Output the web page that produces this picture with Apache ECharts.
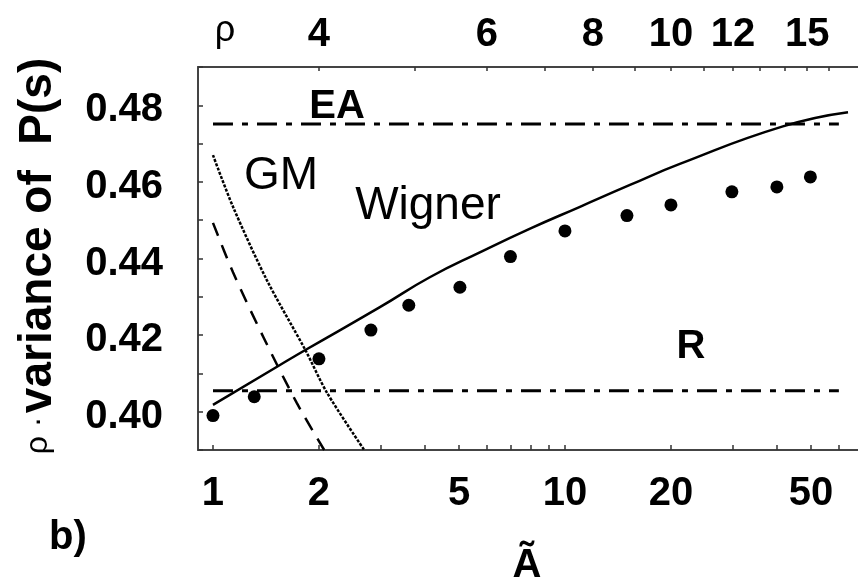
<!DOCTYPE html>
<html>
<head>
<meta charset="utf-8">
<script src="https://cdn.jsdelivr.net/npm/echarts@6/dist/echarts.min.js"></script>
<style>
  html, body { margin: 0; padding: 0; background: #fff; }
  #chart { width: 858px; height: 579px; }
</style>
</head>
<body>
<div id="chart"></div>
<script>
// Axis ranges and ticks
const xMin = 0.9067, xMax = 68;
const yMin = 0.39, yMax = 0.49;
const bottomLabels = [1, 2, 5, 10, 20, 50];
const bottomTicks = [1, 2, 3, 4, 5, 6, 7, 8, 9, 10, 20, 30, 40, 50, 60];
const rhoLabels = [4, 6, 8, 10, 12, 15];
const rhoTicks = [4, 5, 6, 7, 8, 9, 10, 11, 12, 13, 14, 15, 16];

// Measured points (dots)
const dotsX = [1, 1.31, 2, 2.81, 3.6, 5.03, 7.0, 10, 15, 20, 29.8, 40, 49.8];
const dotsY = [0.399, 0.4039, 0.4138, 0.4213, 0.4278, 0.4325, 0.4405, 0.4472, 0.4512, 0.454, 0.4574, 0.4587, 0.4613];

// Wigner curve
const wignerX = [1, 1.55, 1.83, 2.98, 4.13, 5.73, 7.96, 11.03, 15.3, 21.2, 41.6, 63.7];
const wignerY = [0.4018, 0.4122, 0.4161, 0.4273, 0.4351, 0.4416, 0.4478, 0.4535, 0.4592, 0.4647, 0.4745, 0.4782];

// GM curve
const gmX = [1, 1.14, 1.42, 1.83, 2.11, 2.69];
const gmY = [0.467, 0.4535, 0.4345, 0.4161, 0.4049, 0.39];

// Dashed curve
const dashX = [1, 1.14, 1.39, 1.73, 2.07];
const dashY = [0.4493, 0.4364, 0.4195, 0.4023, 0.39];

// Horizontal reference levels
const levelX = [1, 60];
const eaLevel = 0.4751;
const rLevel = 0.4055;

const rhoToA = r => (r / 2) * (r / 2 - 1);
const aToRho = a => Math.round(1 + Math.sqrt(1 + 4 * a));
const zip = (xs, ys) => xs.map((x, i) => [x, ys[i]]);

const boldFont = { fontFamily: 'Liberation Sans, Arial, sans-serif', fontWeight: 'bold', fontSize: 40, color: '#000' };
const axisLineStyle = { color: '#444', width: 2 };
const dashDot = [20, 9, 6, 9];

const chart = echarts.init(document.getElementById('chart'), null, { renderer: 'canvas' });

chart.setOption({
  animation: false,
  backgroundColor: '#fff',
  grid: { left: 198, right: 0, top: 67, bottom: 129, containLabel: false, outerBoundsMode: 'none' },
  xAxis: [
    {
      type: 'log', position: 'bottom', min: xMin, max: xMax,
      axisLine: { show: true, onZero: false, lineStyle: axisLineStyle },
      axisTick: { show: true, inside: true, length: 5, customValues: bottomTicks, lineStyle: { color: '#333', width: 1.5 } },
      axisLabel: Object.assign({ customValues: bottomLabels, margin: 24, formatter: v => String(Math.round(v)) }, boldFont),
      splitLine: { show: false }, minorTick: { show: false }
    },
    {
      type: 'log', position: 'top', min: xMin, max: xMax,
      axisLine: { show: true, onZero: false, lineStyle: axisLineStyle },
      axisTick: { show: true, inside: true, length: 4, customValues: rhoTicks.map(rhoToA), lineStyle: { color: '#333', width: 1.5 } },
      axisLabel: Object.assign({ customValues: rhoLabels.map(rhoToA), margin: 12, formatter: v => String(aToRho(v)) }, boldFont),
      splitLine: { show: false }
    }
  ],
  yAxis: {
    type: 'value', min: yMin, max: yMax, interval: 0.01,
    axisLine: { show: true, onZero: false, lineStyle: axisLineStyle },
    axisTick: { show: true, inside: true, length: 5, lineStyle: { color: '#333', width: 1.5 } },
    axisLabel: Object.assign({
      margin: 35,
      formatter: v => {
        const k = Math.round(v * 100);
        return (k % 2 === 0 && k >= 40 && k <= 48) ? '{t|' + (k / 100).toFixed(2) + '}' : '';
      },
      rich: {
        t: { fontFamily: 'Liberation Sans, Arial, sans-serif', fontWeight: 'bold', fontSize: 40, color: '#000', lineHeight: 50, verticalAlign: 'bottom' }
      }
    }, boldFont),
    splitLine: { show: false }
  },
  series: [
    {
      name: 'EA', type: 'line', data: zip(levelX, [eaLevel, eaLevel]), symbol: 'none',
      lineStyle: { color: '#000', width: 3, type: dashDot }, z: 2
    },
    {
      name: 'R', type: 'line', data: zip(levelX, [rLevel, rLevel]), symbol: 'none',
      lineStyle: { color: '#000', width: 3, type: dashDot }, z: 2
    },
    {
      name: 'GM', type: 'line', data: zip(gmX, gmY), symbol: 'none', smooth: 0.3,
      lineStyle: { color: '#000', width: 2.5, type: [3, 1.5] }, z: 3
    },
    {
      name: 'dashed', type: 'line', data: zip(dashX, dashY), symbol: 'none', smooth: 0.3,
      lineStyle: { color: '#000', width: 2.5, type: [14, 10] }, z: 3
    },
    {
      name: 'Wigner', type: 'line', data: zip(wignerX, wignerY), symbol: 'none', smooth: 0.5,
      lineStyle: { color: '#000', width: 2.5, type: 'solid' }, z: 4
    },
    {
      name: 'dots', type: 'scatter', data: zip(dotsX, dotsY), symbol: 'circle', symbolSize: 13,
      itemStyle: { color: '#000', opacity: 1 }, z: 5
    }
  ],
  graphic: [
    { type: 'text', x: 337, y: 107, z: 10, style: { text: 'EA', font: 'bold 40px "Liberation Sans", Arial, sans-serif', fill: '#000', align: 'center', verticalAlign: 'middle', textAlign: 'center', textVerticalAlign: 'middle' } },
    { type: 'text', x: 281, y: 176, z: 10, style: { text: 'GM', font: '46px "Liberation Sans", Arial, sans-serif', fill: '#000', align: 'center', verticalAlign: 'middle', textAlign: 'center', textVerticalAlign: 'middle' } },
    { type: 'text', x: 428, y: 206, z: 10, style: { text: 'Wigner', font: '46px "Liberation Sans", Arial, sans-serif', fill: '#000', align: 'center', verticalAlign: 'middle', textAlign: 'center', textVerticalAlign: 'middle' } },
    { type: 'text', x: 691, y: 347, z: 10, style: { text: 'R', font: 'bold 40px "Liberation Sans", Arial, sans-serif', fill: '#000', align: 'center', verticalAlign: 'middle', textAlign: 'center', textVerticalAlign: 'middle' } },
    { type: 'text', x: 225, y: 31, z: 10, style: { text: 'ρ', font: '36px "Liberation Sans", Arial, sans-serif', fill: '#000', align: 'center', verticalAlign: 'middle', textAlign: 'center', textVerticalAlign: 'middle' } },
    { type: 'text', x: 68, y: 538, z: 10, style: { text: 'b)', font: 'bold 40px "Liberation Sans", Arial, sans-serif', fill: '#000', align: 'center', verticalAlign: 'middle', textAlign: 'center', textVerticalAlign: 'middle' } },
    { type: 'text', x: 527, y: 566, z: 10, style: { text: 'Ã', font: 'bold 40px "Liberation Sans", Arial, sans-serif', fill: '#000', align: 'center', verticalAlign: 'middle', textAlign: 'center', textVerticalAlign: 'middle' } },
    {
      type: 'text', x: 38, y: 256, rotation: Math.PI / 2, z: 10,
      style: {
        text: '{r|ρ ·} {b|variance of  P(s)}',
        align: 'center', verticalAlign: 'middle', textAlign: 'center', textVerticalAlign: 'middle',
        fill: '#000',
        rich: {
          r: { fontFamily: 'Liberation Sans, Arial, sans-serif', fontSize: 32, fill: '#000', color: '#000' },
          b: { fontFamily: 'Liberation Sans, Arial, sans-serif', fontWeight: 'bold', fontSize: 46, fill: '#000', color: '#000' }
        }
      }
    }
  ]
});
</script>
</body>
</html>
